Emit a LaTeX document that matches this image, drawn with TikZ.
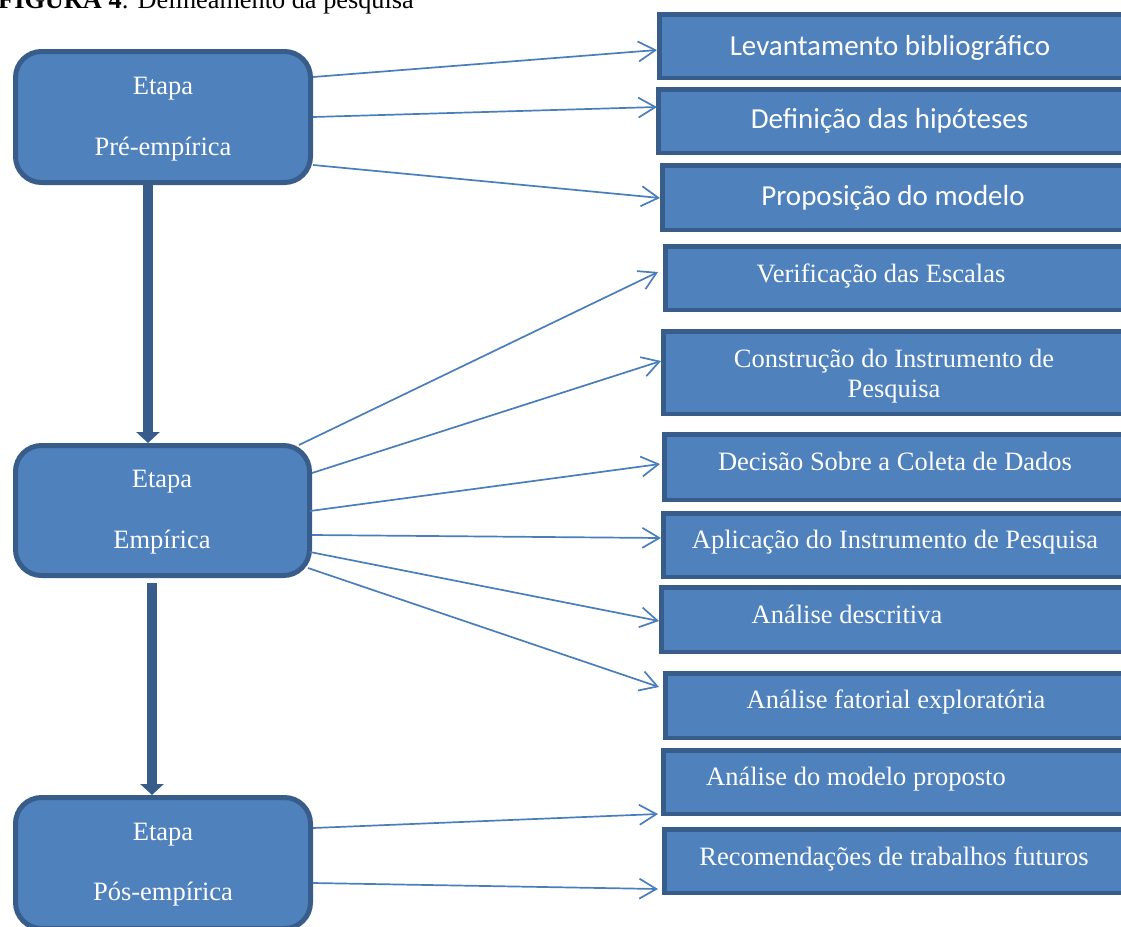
\documentclass[tikz,border=0pt]{standalone}
\usepackage{fontspec}
\setmainfont{Liberation Serif}
\newfontfamily\calibfont{Carlito}
\usetikzlibrary{arrows.meta,fit,calc}
\definecolor{boxfill}{HTML}{4F81BD}
\definecolor{boxline}{HTML}{385D8A}
\definecolor{arrline}{HTML}{4A7EBB}
\begin{document}
\begin{tikzpicture}[x=1pt,y=-1pt,
  stage/.style={draw=boxline, fill=boxfill, line width=5pt, rounded corners=26pt, inner sep=0pt},
  task/.style={draw=boxline, fill=boxfill, line width=4.5pt, inner sep=0pt},
  lbl/.style={text=white, inner sep=0pt, anchor=base, font=\fontsize{26.5}{30}\selectfont},
  clbl/.style={text=white, inner sep=0pt, anchor=base, font=\calibfont\fontsize{29}{33}\selectfont},
  link/.style={draw=arrline, line width=1.7pt, -{Straight Barb[length=17pt,width=20pt]}},
  flow/.style={draw=boxline, line width=9.5pt, -{Triangle[length=11pt,width=23pt]}}]
\clip (0,0) rectangle (1121,926);
% title (cut off at the top, as in the reference)
\node[anchor=base west, inner sep=0pt, font=\fontsize{26.3}{30}\selectfont] (title) at (-2,9) {\textbf{FIGURA 4}: Delineamento da pesquisa};
% stage boxes
\node[stage, fit={(15.5,51.5) (310.5,182.5)}] (l1) {};
\node[stage, fit={(15.5,445.5) (309.5,575.5)}] (l2) {};
\node[stage, fit={(15.5,797.5) (310.5,928.5)}] (l3) {};
\node[lbl] (e1) at (163,94) {Etapa};
\node[lbl] (p1) at (163,155) {Pré-empírica};
\node[lbl] (e2) at (162,487) {Etapa};
\node[lbl] (p2) at (162,548) {Empírica};
\node[lbl] (e3) at (163,840) {Etapa};
\node[lbl] (p3) at (163,900) {Pós-empírica};
% task boxes
\node[task, fit={(659.25,14.25) (1130,77.75)}] (r1) {};
\node[task, fit={(658.25,89.25) (1130,152.75)}] (r2) {};
\node[task, fit={(662.25,165.25) (1130,229.75)}] (r3) {};
\node[task, fit={(665.25,246.25) (1130,309.75)}] (r4) {};
\node[task, fit={(663.25,331.25) (1130,413.75)}] (r5) {};
\node[task, fit={(664.25,434.25) (1130,499.75)}] (r6) {};
\node[task, fit={(663.25,513.25) (1130,576.75)}] (r7) {};
\node[task, fit={(661.25,587.25) (1130,651.75)}] (r8) {};
\node[task, fit={(665.25,673.25) (1130,737.75)}] (r9) {};
\node[task, fit={(663.25,750.25) (1130,813.75)}] (r10) {};
\node[task, fit={(664.25,829.25) (1130,892.75)}] (r11) {};
\node[clbl] (t1) at (890,55) {Levantamento bibliográfico};
\node[clbl] (t2) at (889.5,128) {Definição das hipóteses};
\node[clbl] (t3) at (893,205) {Proposição do modelo};
\node[lbl] (t4) at (881,282) {Verificação das Escalas};
\node[lbl, align=center] (t5) at (894,397) {Construção do Instrumento de\\Pesquisa};
\node[lbl] (t6) at (895,470) {Decisão Sobre a Coleta de Dados};
\node[lbl] (t7) at (895,548) {Aplicação do Instrumento de Pesquisa};
\node[lbl] (t8) at (847,623) {Análise descritiva};
\node[lbl] (t9) at (896,708) {Análise fatorial exploratória};
\node[lbl] (t10) at (856,785) {Análise do modelo proposto};
\node[lbl] (t11) at (894,865) {Recomendações de trabalhos futuros};
% thin connectors
\draw[link] (l1.east |- 0,77) -- (r1.west |- 0,50);
\draw[link] (l1.east |- 0,117) -- ($(r2.west |- 0,107)+(1,0)$);
\draw[link] (l1.east |- 0,165) -- (r3.west |- 0,198);
\draw[link] ($(l2.east |- 0,445)+(-13,0)$) -- ($(r4.west |- 0,272)+(-5,0)$);
\draw[link] (l2.east |- 0,473) -- (r5.west |- 0,361);
\draw[link] ($(l2.east |- 0,511)+(-2,0)$) -- ($(r6.west |- 0,464)+(-2,0)$);
\draw[link] (l2.east |- 0,535) -- (r7.west |- 0,538);
\draw[link] ($(l2.east |- 0,552)+(-2,0)$) -- (r8.west |- 0,621);
\draw[link] ($(l2.east |- 0,568)+(-4,0)$) -- ($(r9.west |- 0,687)+(-4,0)$);
\draw[link] (l3.east |- 0,828) -- ($(r10.west |- 0,814)+(-3,0)$);
\draw[link] (l3.east |- 0,883) -- ($(r11.west |- 0,889)+(-4,0)$);
% thick flow arrows
\draw[flow] (l1.south -| 148,0) -- (l2.north -| 148,0);
\draw[flow] ($(l2.south -| 152,0)+(0,5)$) -- (l3.north -| 152,0);
\end{tikzpicture}
\end{document}
